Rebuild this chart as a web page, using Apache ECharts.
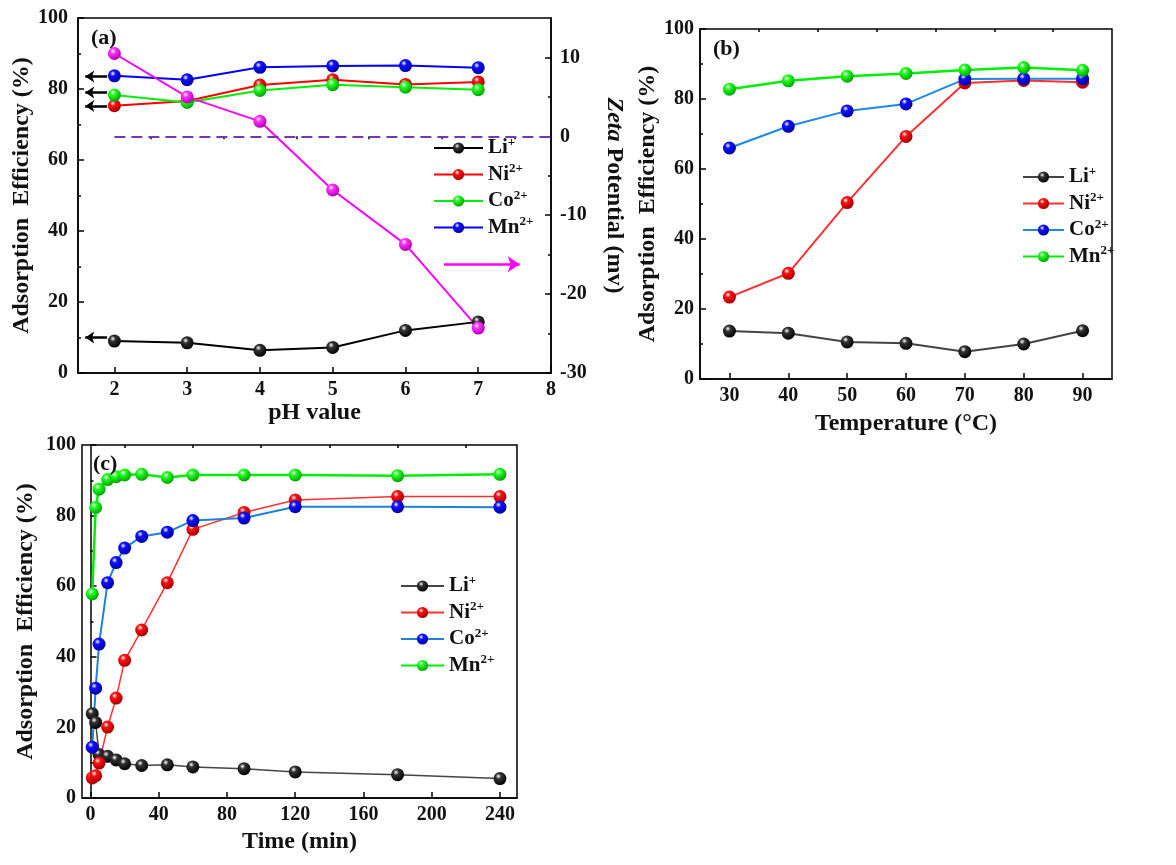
<!DOCTYPE html>
<html>
<head>
<meta charset="utf-8">
<script src="https://cdn.jsdelivr.net/npm/echarts@6/dist/echarts.min.js"></script>
<style>
  html, body { margin: 0; padding: 0; background: #fff; }
  #chart { width: 1176px; height: 865px; }
</style>
</head>
<body>
<div id="chart"></div>
<script>
  // (a) effect of pH
  const phValues = [2, 3, 4, 5, 6, 7];
  const phLi = [9.0, 8.5, 6.4, 7.2, 12.0, 14.4];
  const phNi = [75.3, 76.6, 81.1, 82.6, 81.3, 82.0];
  const phCo = [78.3, 76.2, 79.6, 81.2, 80.5, 79.8];
  const phMn = [83.7, 82.6, 86.1, 86.5, 86.6, 86.0];
  const phZeta = [10.5, 5.0, 1.9, -6.8, -13.7, -24.3];
  const phArrowLevels = [83.5, 79.0, 75.2, 10.0]; // black "read left axis" arrows

  // (b) effect of temperature
  const temps = [30, 40, 50, 60, 70, 80, 90];
  const tLi = [13.7, 13.1, 10.6, 10.2, 7.8, 10.0, 13.8];
  const tNi = [23.4, 30.2, 50.4, 69.3, 84.6, 85.3, 84.8];
  const tCo = [66.0, 72.2, 76.6, 78.6, 85.7, 85.8, 85.8];
  const tMn = [82.8, 85.2, 86.5, 87.3, 88.3, 89.0, 88.2];

  // (c) effect of time
  const times = [1, 3, 5, 10, 15, 20, 30, 45, 60, 90, 120, 180, 240];
  const mLi = [23.9, 21.4, 12.3, 11.8, 10.8, 9.7, 9.2, 9.4, 8.8, 8.3, 7.4, 6.6, 5.5];
  const mNi = [5.7, 6.3, 9.9, 20.1, 28.3, 39.0, 47.6, 61.0, 76.1, 80.9, 84.4, 85.4, 85.4];
  const mCo = [14.4, 31.1, 43.6, 61.0, 66.7, 70.8, 74.1, 75.3, 78.6, 79.3, 82.5, 82.5, 82.4];
  const mMn = [57.8, 82.3, 87.5, 90.2, 91.0, 91.5, 91.7, 90.8, 91.5, 91.5, 91.5, 91.3, 91.7];

  // tick labels
  const phTicks = [2, 3, 4, 5, 6, 7, 8];
  const phMinor = [2.5, 3.5, 4.5, 5.5, 6.5, 7.5];
  const zetaTicks = [-30, -20, -10, 0, 10];
  const zetaMinor = [-25, -15, -5, 5];
  const tempTicks = [30, 40, 50, 60, 70, 80, 90];
  const tempMinor = [35, 45, 55, 65, 75, 85];
  const timeTicks = [0, 40, 80, 120, 160, 200, 240];
  const timeMinor = [20, 60, 100, 140, 180, 220];

  const FONT = "'Liberation Serif', 'Times New Roman', serif";
  const chart = echarts.init(document.getElementById('chart'));

  const zip = (xs, ys) => xs.map((x, i) => [x, ys[i]]);

  // glossy ball marker
  const ball = (color, dark) => ({
    type: 'radial', x: 0.38, y: 0.32, r: 0.7,
    colorStops: [
      { offset: 0, color: '#ffffff' },
      { offset: 0.3, color: color },
      { offset: 1, color: dark },
    ],
  });

  const axisLine = { show: true, lineStyle: { color: '#000', width: 1.5 } };
  const labelStyle = { fontFamily: FONT, fontWeight: 'bold', fontSize: 20, color: '#111' };
  const nameStyle = { fontFamily: FONT, fontWeight: 'bold', fontSize: 24, color: '#111' };

  function xMajor(grid, min, max, ticks, name, gap) {
    return {
      type: 'value', gridIndex: grid, min: min, max: max,
      name: name, nameLocation: 'middle', nameGap: gap, nameTextStyle: nameStyle,
      axisLine: axisLine,
      axisTick: { inside: true, length: 6, customValues: ticks, lineStyle: { width: 1.5 } },
      axisLabel: Object.assign({ customValues: ticks, margin: 7 }, labelStyle),
      splitLine: { show: false },
    };
  }
  function xMinor(grid, min, max, ticks) {
    return {
      type: 'value', gridIndex: grid, min: min, max: max,
      axisLine: { show: false },
      axisTick: { inside: true, length: 3, customValues: ticks, lineStyle: { width: 1.5, color: '#000' } },
      axisLabel: { show: false },
      splitLine: { show: false },
    };
  }
  function yLeft(grid, gap, margin) {
    return {
      type: 'value', gridIndex: grid, min: 0, max: 100, interval: 20,
      name: 'Adsorption  Efficiency (%)', nameLocation: 'middle', nameGap: gap,
      nameRotate: 90, nameTextStyle: nameStyle,
      axisLine: axisLine,
      axisTick: { inside: true, length: 6, lineStyle: { width: 1.5 } },
      minorTick: { show: true, splitNumber: 2, length: 3, lineStyle: { width: 1.5, color: '#000' } },
      axisLabel: Object.assign({ margin: margin }, labelStyle),
      splitLine: { show: false },
    };
  }

  function line(name, xi, yi, xs, ys, lineColor, ballColor, dark, width, extra) {
    return Object.assign({
      name: name, type: 'line', xAxisIndex: xi, yAxisIndex: yi,
      data: zip(xs, ys),
      symbol: 'circle', symbolSize: 13,
      lineStyle: { color: lineColor, width: width },
      itemStyle: { color: ball(ballColor, dark), borderWidth: 0 },
      z: 3,
    }, extra || {});
  }

  function legend(names, left, top, itemWidth) {
    return {
      orient: 'vertical', left: left, top: top,
      itemWidth: itemWidth, itemHeight: 14, itemGap: 4,
      data: names,
      formatter: function (n) {
        const s = n.split(':')[1];
        const m = s.match(/^([A-Za-z]+)(.*)$/);
        return '{e|' + m[1] + '}{s|' + m[2] + '}';
      },
      textStyle: {
        rich: {
          e: { fontFamily: FONT, fontWeight: 'bold', fontSize: 21, color: '#111', lineHeight: 24 },
          s: { fontFamily: FONT, fontWeight: 'bold', fontSize: 13, color: '#111', verticalAlign: 'top', lineHeight: 24 },
        },
      },
    };
  }

  const blackArrows = phArrowLevels.map(v => [
    { coord: [1.9, v] }, { coord: [1.6, v] },
  ]);

  const option = {
    animation: false,
    backgroundColor: '#fff',
    title: [
      { text: '(a)', left: 86, top: 22, textStyle: { fontFamily: FONT, fontWeight: 'bold', fontSize: 22, color: '#111' } },
      { text: '(b)', left: 708, top: 33, textStyle: { fontFamily: FONT, fontWeight: 'bold', fontSize: 22, color: '#111' } },
      { text: '(c)', left: 88, top: 448, textStyle: { fontFamily: FONT, fontWeight: 'bold', fontSize: 22, color: '#111' } },
    ],
    grid: [
      { left: 78, top: 18, width: 473, height: 355, show: true, borderColor: '#000', borderWidth: 1.5 },
      { left: 700, top: 29, width: 412, height: 350, show: true, borderColor: '#000', borderWidth: 1.5 },
      { left: 82, top: 445, width: 435, height: 353, show: true, borderColor: '#000', borderWidth: 1.5 },
    ],
    legend: [
      legend(['a:Li+', 'a:Ni2+', 'a:Co2+', 'a:Mn2+'], 428, 131, 49),
      legend(['b:Li+', 'b:Ni2+', 'b:Co2+', 'b:Mn2+'], 1017, 160, 41),
      legend(['c:Li+', 'c:Ni2+', 'c:Co2+', 'c:Mn2+'], 395, 569, 43),
    ],
    xAxis: [
      xMajor(0, 1.5, 8, phTicks, 'pH value', 26),
      xMinor(0, 1.5, 8, phMinor),
      xMajor(1, 25, 95, tempTicks, 'Temperature (°C)', 33),
      xMinor(1, 25, 95, tempMinor),
      xMajor(2, -5, 250, timeTicks, 'Time (min)', 32),
      xMinor(2, -5, 250, timeMinor),
    ],
    yAxis: [
      yLeft(0, 40, 10),
      {
        type: 'value', gridIndex: 0, position: 'right', min: -30, max: 15,
        name: '{i|Zeta} Potential (mv)', nameLocation: 'middle', nameGap: 51, nameRotate: -90,
        nameTextStyle: Object.assign({
          rich: { i: { fontFamily: FONT, fontWeight: 'bold', fontStyle: 'italic', fontSize: 24, color: '#111' } },
        }, nameStyle),
        axisLine: axisLine,
        axisTick: { inside: true, length: 6, customValues: zetaTicks, lineStyle: { width: 1.5 } },
        axisLabel: Object.assign({ customValues: zetaTicks, margin: 9 }, labelStyle),
        splitLine: { show: false },
      },
      {
        type: 'value', gridIndex: 0, position: 'right', min: -30, max: 15,
        axisLine: { show: false },
        axisTick: { inside: true, length: 3, customValues: zetaMinor, lineStyle: { width: 1.5, color: '#000' } },
        axisLabel: { show: false },
        splitLine: { show: false },
      },
      yLeft(1, 26, 6),
      yLeft(2, 44, 6),
    ],
    series: [
      // (a)
      line('a:Li+', 0, 0, phValues, phLi, '#000', '#333', '#000', 2, {
        markLine: {
          silent: true, symbol: ['none', 'arrow'], symbolSize: [9, 9],
          label: { show: false },
          lineStyle: { color: '#000', width: 2.5, type: 'solid' },
          data: blackArrows,
        },
      }),
      line('a:Ni2+', 0, 0, phValues, phNi, '#ff0000', '#ff1010', '#a00000', 2),
      line('a:Co2+', 0, 0, phValues, phCo, '#00ee00', '#20ff20', '#00a000', 2),
      line('a:Mn2+', 0, 0, phValues, phMn, '#0000ff', '#1010ff', '#0000a0', 2),
      line('a:Zeta', 0, 1, phValues, phZeta, '#ff00ff', '#ff30ff', '#b000b0', 2, {
        markLine: {
          silent: true, label: { show: false },
          data: [
            [{ coord: [2, 0], symbol: 'none', lineStyle: { color: '#7a35b0', width: 2, type: [11, 6] } },
             { coord: [8, 0], symbol: 'none' }],
            [{ coord: [6.53, -16.2], symbol: 'none', lineStyle: { color: '#ff00ff', width: 2.5, type: 'solid' } },
             { coord: [7.57, -16.2], symbol: 'arrow', symbolSize: 12 }],
          ],
        },
      }),
      // (b)
      line('b:Li+', 2, 3, temps, tLi, '#444', '#333', '#000', 2),
      line('b:Ni2+', 2, 3, temps, tNi, '#ff3030', '#ff1010', '#a00000', 2),
      line('b:Co2+', 2, 3, temps, tCo, '#1e88e5', '#1010ff', '#0000a0', 2),
      line('b:Mn2+', 2, 3, temps, tMn, '#00ee00', '#20ff20', '#00a000', 2.5),
      // (c)
      line('c:Li+', 4, 4, times, mLi, '#444', '#333', '#000', 1.5),
      line('c:Ni2+', 4, 4, times, mNi, '#ff3030', '#ff1010', '#a00000', 1.5),
      line('c:Co2+', 4, 4, times, mCo, '#1e80d8', '#1010ff', '#0000a0', 2),
      line('c:Mn2+', 4, 4, times, mMn, '#00ee00', '#20ff20', '#00a000', 2.5),
    ],
  };

  chart.setOption(option);
</script>
</body>
</html>
